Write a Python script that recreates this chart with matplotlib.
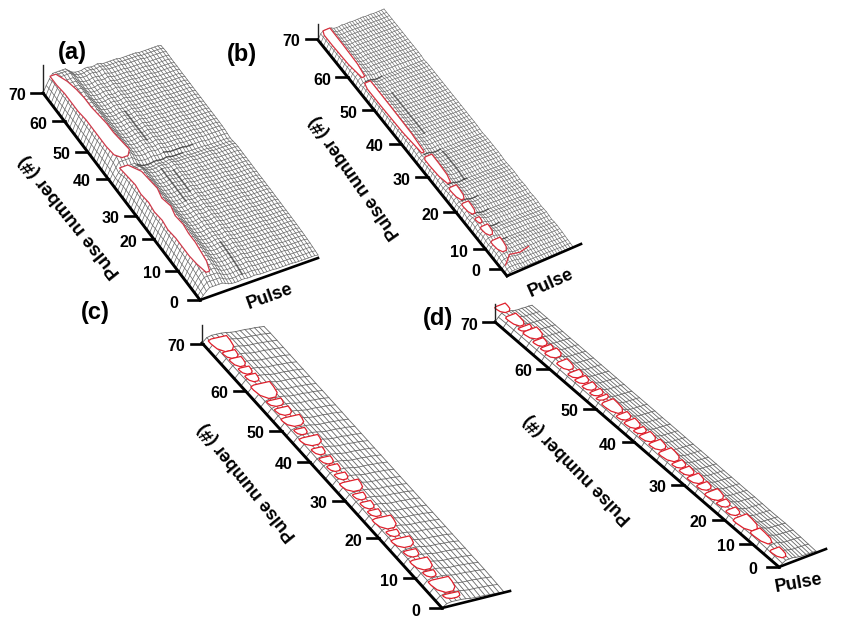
import matplotlib
matplotlib.use('Agg')
import matplotlib.pyplot as plt
import numpy as np

plt.rcParams['font.family'] = ['Liberation Sans', 'DejaVu Sans']
plt.rcParams['font.weight'] = 'bold'

tick_labels = [0, 10, 20, 30, 40, 50, 60, 70]

# surface heights across the pulse, one value per mesh column
a_profile = [0, 7, 13, 18, 18, 18, 18, 18, 15, 12, 10.5, 10, 10, 11, 11, 10, 10, 11, 10, 9, 9, 9, 9, 9, 8, 8, 8, 8, 8, 8, 7, 7, 7, 7, 7, 7, 7, 6]
b_profile = [0, 5, 7, 7, 7, 6.5, 5, 4.5, 4.5, 5, 4.5, 4.5, 4.5, 4, 4, 4, 4, 4, 3.5, 3.5, 3.5, 3, 3, 3, 3, 3]
c_profile = [0, 5, 6.5, 6.5, 6.5, 6, 5, 4.5, 4.5, 4.5, 4, 4, 3.5, 3]
d_profile = [0, 4, 7, 7, 7, 5.5, 4.5, 4, 4, 3.5, 3.5, 3]

# height scale of each mesh row, pulse number 70 first
a_rows = [.9, 1, 1.05, 1, 1, .98, 1, 1, .97, 1, 1, 1, .98, 1, 1, 1, 1, .98, 1, 1,
          1, 1, 1, .98, .95, .85, .72, .8, .95, 1, 1, .98, 1, 1, 1, .98, 1, .97, 1, 1,
          .98, 1, 1, .97, 1, .98, .97, .96, .96, .95, .94, .93, .9, .88, .85, .8, .75, .68, .6, .5]
b_rows = [1, 1, 1, 1, .98, 1, 1, 1, 1, .98, 1, 1, 1, 1, .95, .7, .95, 1, 1, 1, 1, .98, 1, 1,
          1, 1, .98, 1, 1, 1, 1, 1, .98, 1, 1, .96, .85, .75, .9, 1, 1, 1, 1, 1, .95, .8, .75, .9,
          1, 1, .95, .78, .9, 1, .95, .75, .9, 1, .9, .72, .9, 1, .85, .7, .9, .95, .9, .85, .7, .6, .5, .4]
c_rows = [.85, 1, 1, 1, .98, 1, 1, 1, .95, 1, 1, 1, 1, .97, 1, 1, 1, .97, 1,
          1, 1, .97, 1, 1, 1, .97, 1, 1, 1, .97, 1, 1, .97, 1, 1, .9, .8, .65]
d_rows = [.9, 1, 1, 1, 1, .97, 1, 1, 1, .97, 1, 1, 1, .96, 1, 1, 1, .97, 1,
          1, 1, .95, 1, 1, 1, .97, 1, 1, 1, 1.05, 1, .95, 1, 1.1, 1, .9, .75, .6]

# places where the tick marks sit on the number axis
a_ticks = [0, 9.9, 20.5, 28.5, 41, 50.2, 60.4, 70]
b_ticks = [2.1, 8, 18.9, 29.3, 39.2, 49.2, 58.9, 70.3]
c_ticks = [0, 7.8, 18.4, 28.3, 38.6, 46.8, 57.4, 69.8]
d_ticks = [0, 6.7, 13.5, 23.5, 35.7, 45.2, 56.7, 70]

# panel a: two long flat tops, outlined in red
a_top_n = [69, 66, 63, 60, 57, 54, 51, 48, 45, 42, 40.5]
a_top_left = [.04, .04, .05, .05, .05, .06, .06, .06, .06, .07, .11]
a_top_right = [.09, .13, .15, .16, .16, .17, .18, .18, .19, .20, .16]
a_low_n = [38, 35, 32, 29, 26, 23, 20, 17, 14, 11, 8, 5, 2]
a_low_left = [.04, .05, .06, .05, .06, .05, .06, .05, .06, .06, .06, .07, .09]
a_low_right = [.11, .17, .18, .19, .17, .19, .17, .18, .17, .17, .16, .15, .12]

# panels b, c, d: separate flat tops, pulse number from, to, pulse from, to
b_start = [70, 54.5, 32.5, 23.4, 18.7, 14.2, 11.8, 7.7]
b_end = [56, 33.7, 24.5, 19.6, 15.4, 12.7, 9.1, 4.2]
b_left = [.05, .05, .06, .07, .07, .09, .07, .06]
b_right = [.18, .16, .19, .19, .18, .16, .19, .21]
b_tail_n = [1, 3, 2.5, 3]
b_tail_u = [.02, .16, .30, .45]

c_start = [69, 65.5, 63.7, 61.2, 59.3, 56.8, 52.6, 50.5, 48.1, 45, 42.8, 39.9, 37.5, 35.4, 33.2, 31, 27.9, 25.7, 23.5, 21.5, 18.1, 16, 12.9, 10.5, 7.4, 5.2, 1.4]
c_end = [65.5, 63.7, 61.5, 59.5, 57.5, 53.1, 51, 48.6, 45.7, 43.5, 40.6, 38.2, 35.8, 33.8, 31.6, 28.5, 26.3, 23.9, 21.9, 18.6, 16.6, 13.7, 11.2, 7.8, 5.9, 1.8, .2]
c_left = [.03, .07, .08, .09, .09, .04, .07, .08, .05, .09, .05, .09, .08, .09, .09, .05, .09, .09, .09, .05, .09, .05, .08, .05, .09, .05, .08]
c_right = [.34, .28, .28, .27, .27, .36, .31, .31, .36, .27, .36, .27, .27, .27, .27, .36, .27, .27, .27, .36, .27, .36, .29, .34, .27, .39, .34]

d_start = [71.6, 68.8, 65.6, 64.5, 61.9, 60, 58.8, 55.9, 52.9, 51.2, 49.4, 47.5, 45.9, 44.5, 40.9, 39, 36.7, 35.2, 32.9, 30.4, 27.2, 25.4, 23.3, 21, 18.8, 16.1, 13.8, 11.6, 7.8, 2.6]
d_end = [69.7, 65.9, 64.5, 62.1, 60.2, 58.8, 56.9, 53.5, 51.3, 49.7, 47.8, 46.2, 45, 41.2, 39.3, 36.9, 35.4, 33.1, 30.7, 27.4, 25.6, 23.5, 21.2, 19.3, 16.4, 14.5, 12.1, 7.8, 4, .2]
d_left = [.15, .13, .13, .13, .12, .12, .1, .1, .08, .08, .08, .08, .08, .06, .07, .07, .08, .06, .07, .05, .07, .07, .05, .06, .03, .06, .06, .0, .05, .02]
d_right = [.45, .43, .45, .52, .41, .41, .44, .40, .40, .38, .38, .38, .38, .40, .38, .38, .36, .38, .40, .42, .36, .36, .38, .36, .40, .34, .34, .40, .34, .29]

# darker mesh lines: (row, first column, last column) and (column, first row, last row)
a_dark_rows = [(26, 8, 22), (25, 17, 26)]
a_dark_cols = [(15, 13, 21), (13, 29, 38), (14, 50, 58), (16, 30, 36)]
b_dark_rows = [(15, 3, 9), (37, 3, 9), (46, 3, 10), (51, 3, 9), (55, 3, 9), (59, 3, 9), (63, 3, 8)]
b_dark_cols = [(8, 20, 32), (9, 38, 46)]

# shared outline of one flat top, along the number and across the pulse
cell_s = [.85, 1, 1, .3, -.5, -1, -1, -.4, .4]
cell_w = [-1, -.6, 1, .95, .8, .35, -.35, -.85, -1]


def project(n, u, z, panel):
    t = (70 - np.asarray(n, dtype=float)) / 70
    u = np.asarray(u, dtype=float)
    z = np.asarray(z, dtype=float)
    x = panel['corner'][0] + t * (panel['origin'][0] - panel['corner'][0]) + u * panel['vec'][0]
    y = panel['corner'][1] + t * (panel['origin'][1] - panel['corner'][1]) + u * panel['vec'][1] - z
    return x, y


def draw_mesh(ax, panel, profile, rows, dark_rows=(), dark_cols=()):
    u = np.linspace(0, 1, len(profile))
    n = np.linspace(70, 0, len(rows))
    uu, nn = np.meshgrid(u, n)
    zz = np.outer(rows, profile)
    x, y = project(nn, uu, zz, panel)
    ax.plot(x, y, color='#666666', lw=panel['mesh_lw'], zorder=1)
    ax.plot(x.T, y.T, color='#666666', lw=panel['mesh_lw'], zorder=1)
    for r, c0, c1 in dark_rows:
        ax.plot(x[r, c0:c1 + 1], y[r, c0:c1 + 1], color='#222222', lw=1.1, alpha=.55, zorder=2)
    for c, r0, r1 in dark_cols:
        ax.plot(x[r0:r1 + 1, c], y[r0:r1 + 1, c], color='#222222', lw=1.4, alpha=.45, zorder=2)


def draw_flat(ax, panel, n, left, right, color):
    nn = list(n) + list(n)[::-1]
    uu = list(left) + list(right)[::-1]
    x, y = project(nn, uu, panel['top'], panel)
    ax.fill(x, y, facecolor='white', edgecolor=color, lw=.9, zorder=3)


def draw_cells(ax, panel, start, end, left, right, color):
    s = np.array(cell_s)
    w = np.array(cell_w)
    for n0, n1, u0, u1 in zip(start, end, left, right):
        nn = (n0 + n1) / 2 + s * (n0 - n1) / 2
        uu = (u0 + u1) / 2 + w * (u1 - u0) / 2
        x, y = project(nn, uu, panel['top'], panel)
        ax.fill(x, y, facecolor='white', edgecolor=color, lw=.9, zorder=3)


def draw_axes(ax, panel, ticks):
    corner, origin, end = panel['corner'], panel['origin'], panel['end']
    ax.plot([corner[0], origin[0]], [corner[1], origin[1]], color='black', lw=2.1, zorder=5)
    ax.plot([origin[0], end[0]], [origin[1], end[1]], color='black', lw=1.9, zorder=5)
    ax.plot([corner[0], corner[0]], [corner[1], corner[1] - panel['rise']], color='#222222', lw=1, zorder=5)
    for pos, lab in zip(ticks, tick_labels):
        x, y = project(pos, 0, 0, panel)
        ax.plot([x - 11.5, x], [y, y], color='black', lw=1.9, zorder=5)
        ax.text(x - 26, y + 3, str(lab), fontsize=11.5, ha='center', va='center')
    ax.text(*panel['num_xy'], 'Pulse number (#)', fontsize=panel['num_size'],
            rotation=panel['num_rot'], ha='center', va='center', rotation_mode='anchor')
    if 'pulse_xy' in panel:
        ax.text(*panel['pulse_xy'], 'Pulse', fontsize=13,
                rotation=panel['pulse_rot'], ha='center', va='center', rotation_mode='anchor')


panel_a = dict(corner=(43, 93), origin=(200, 300), end=(318, 258), vec=(118, -42), top=18, rise=28,
               mesh_lw=.5, num_xy=(70, 216), num_rot=128.7, num_size=13.5,
               pulse_xy=(270, 297), pulse_rot=20)
panel_b = dict(corner=(318, 40), origin=(507, 276), end=(581, 244), vec=(66, -28), top=7, rise=16,
               mesh_lw=.45, num_xy=(355, 177), num_rot=125, num_size=13,
               pulse_xy=(551, 283), pulse_rot=24)
panel_c = dict(corner=(202, 343), origin=(442, 608), end=(510, 591), vec=(62, -14), top=6.5, rise=18,
               mesh_lw=.6, num_xy=(247, 482), num_rot=129, num_size=13)
panel_d = dict(corner=(495, 322), origin=(779, 567), end=(826, 549), vec=(37, -14), top=7, rise=18,
               mesh_lw=.6, num_xy=(578, 469), num_rot=134.5, num_size=13,
               pulse_xy=(799, 583), pulse_rot=10)

fig = plt.figure(figsize=(8.5, 6.31), dpi=100)
ax = fig.add_axes([0, 0, 1, 1])
ax.set_xlim(0, 850)
ax.set_ylim(631, 0)
ax.axis('off')

draw_mesh(ax, panel_a, a_profile, a_rows, a_dark_rows, a_dark_cols)
draw_flat(ax, panel_a, a_top_n, a_top_left, a_top_right, '#cf3a4a')
draw_flat(ax, panel_a, a_low_n, a_low_left, a_low_right, '#cf3a4a')
draw_axes(ax, panel_a, a_ticks)

draw_mesh(ax, panel_b, b_profile, b_rows, b_dark_rows, b_dark_cols)
draw_cells(ax, panel_b, b_start, b_end, b_left, b_right, '#d8323f')
tail_x, tail_y = project(b_tail_n, b_tail_u, panel_b['top'], panel_b)
ax.plot(tail_x, tail_y, color='#d8323f', lw=.9, zorder=3)
draw_axes(ax, panel_b, b_ticks)

draw_mesh(ax, panel_c, c_profile, c_rows)
draw_cells(ax, panel_c, c_start, c_end, c_left, c_right, '#e0202c')
draw_axes(ax, panel_c, c_ticks)

draw_mesh(ax, panel_d, d_profile, d_rows)
draw_cells(ax, panel_d, d_start, d_end, d_left, d_right, '#e0202c')
draw_axes(ax, panel_d, d_ticks)

for lab, x, y in zip(['(a)', '(b)', '(c)', '(d)'], [72, 242, 95, 438], [53, 55, 313, 318]):
    ax.text(x, y, lab, fontsize=17, ha='center', va='center')

fig.savefig('out.png', dpi=100)
